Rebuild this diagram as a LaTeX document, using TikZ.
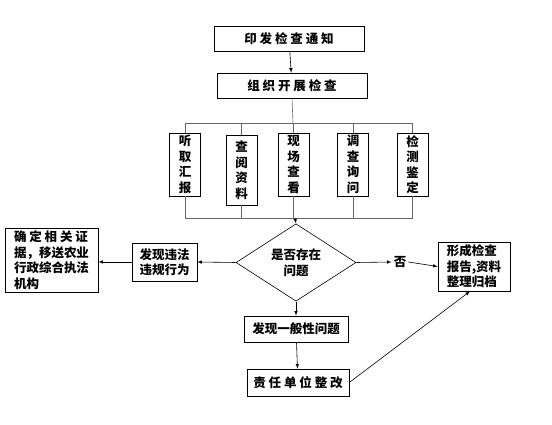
\documentclass[tikz,border=0pt]{standalone}
\usepackage{fontspec}
\usepackage{xcolor}
\usepackage{tikz}
\usetikzlibrary{shapes.geometric}
\newfontfamily\cjk{Noto Sans CJK SC}

\tikzset{
  box/.style={draw, rectangle, semithick, inner sep=1pt},
  narrow/.style={box, minimum width=31pt, minimum height=63pt, align=center},
  link/.style={draw=black!60, semithick}
}

\begin{document}
\begin{tikzpicture}[x=1pt, y=-1pt, font=\cjk\bfseries\fontsize{12.5}{15.5}\selectfont]
                \useasboundingbox (0,0) rectangle (552,425);
                \node[box, minimum width=150pt, minimum height=25pt] (notice) at (289,38.5) {印 发 检 查 通 知};
                \node[box, minimum width=150pt, minimum height=25pt] (organize) at (292,85.5) {组 织 开 展 检 查};
                \node[narrow] (listen) at (185,164.5) {听\\取\\汇\\报};
                \node[narrow, minimum height=70pt] (consult) at (241.5,170) {查\\阅\\资\\料};
                \node[narrow] (site) at (293.5,164.5) {现\\场\\查\\看};
                \node[narrow] (inquire) at (353,164.5) {调\\查\\询\\问};
                \node[narrow] (test) at (412.5,164.5) {检\\测\\鉴\\定};
                \coordinate (split) at (293,123);
                \coordinate (merge) at (295,218);
                \node[draw, diamond, semithick, inner sep=0pt, minimum width=120pt, minimum height=57pt, align=center] (problem) at (296,262.5) {是否存在\\问题};
                \node[inner sep=2pt] (no) at (400,262) {否};
                \node[box, minimum width=72pt, minimum height=49pt, align=left] (report) at (474,266.5) {形成检查\\报告,资料\\整理归档};
                \node[box, minimum width=104pt, minimum height=26pt] (general) at (296,329) {发现一般性问题};
                \node[box, minimum width=102pt, minimum height=27pt] (rectify) at (298,382.5) {责 任 单 位 整 改};
                \node[box, minimum width=65pt, minimum height=38pt, align=left] (illegal) at (164.5,262) {发现违法\\违规行为};
                \node[box, minimum width=93pt, minimum height=64pt, align=left] (transfer) at (51.5,260) {确 定 相 关 证\\据，移送农业\\行政综合执法\\机构};
                \draw[-latex, semithick] (notice) -- (organize);
                \draw[link] (organize.south) -- (split);
                \draw[link] (listen.north |- split) -- (test.north |- split);
                \draw[link] (listen.south |- merge) -- (test.south |- merge);
                \foreach \s in {listen, consult, site, inquire, test} {
                  \draw[link] (\s.north) -- (\s.north |- split);
                  \draw[link] (\s.south) -- (\s.south |- merge);
                }
                \draw[-latex, semithick] (merge) -- (problem.north);
                \draw[-latex, semithick] (problem.east) -- (no.west);
                \draw[-latex, semithick] (no.east) -- (report.west);
                \draw[-latex, semithick] (problem.west) -- (illegal.east);
                \draw[-latex, semithick] (illegal.west) -- (transfer.east |- illegal.west);
                \draw[-latex, semithick] (problem.south) -- (general.north);
                \draw[-latex, semithick] (general) -- (rectify);
                \draw[-latex, semithick] (rectify.east) -- ([xshift=-4pt]report.south);
            \end{tikzpicture}
\end{document}
